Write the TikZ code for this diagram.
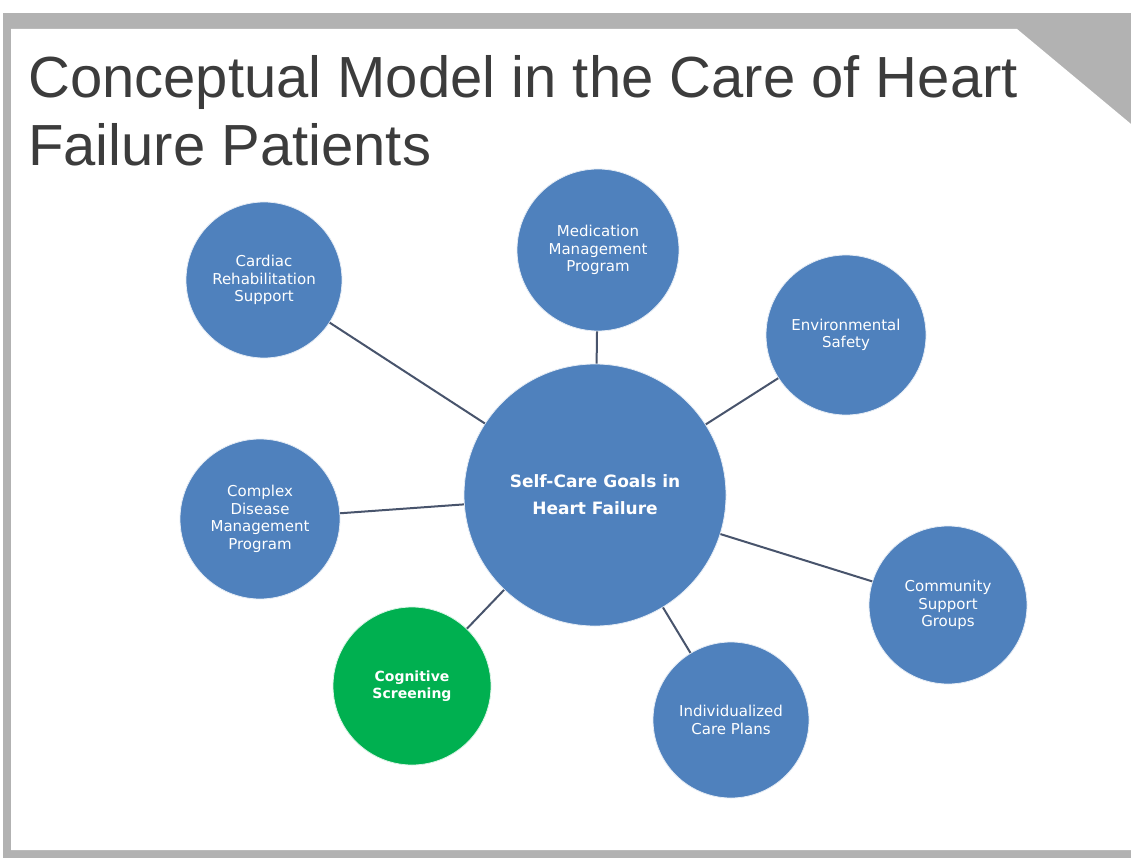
\documentclass[tikz,border=0pt]{standalone}
\usepackage{fontspec}
\setmainfont{Liberation Sans}
\newfontfamily\circfont{DejaVu Sans}
\definecolor{framegray}{RGB}{178,178,178}
\definecolor{titlegray}{RGB}{60,60,60}
\definecolor{bubbleblue}{RGB}{79,129,189}
\definecolor{bubblegreen}{RGB}{0,176,80}
\definecolor{linkcol}{RGB}{72,84,108}
\tikzset{
  bubble/.style={circle, fill=bubbleblue, draw=white!85!bubbleblue, line width=0.8pt,
    inner sep=0pt, minimum size=#1, text=white, align=center,
    font=\circfont\fontsize{15}{17.5}\selectfont},
  hubtext/.style={font=\circfont\bfseries\fontsize{17}{27}\selectfont},
  greenbubble/.style={fill=bubblegreen, draw=white!85!bubblegreen,
    font=\circfont\bfseries\fontsize{14}{17.5}\selectfont},
  link/.style={draw=linkcol, line width=2pt},
  titletext/.style={anchor=base west, inner sep=0pt, text=titlegray,
    font=\fontsize{58}{69}\selectfont}
}
\begin{document}
\begin{tikzpicture}[x=1pt,y=-1pt]
\useasboundingbox (0,0) rectangle (1131,858);
% slide frame with folded top-right corner
\fill[white] (0,0) rectangle (1131,858);
\fill[framegray] (3,13) rectangle (1131,858);
\fill[white] (11,29) -- (1017,29) -- (1131,124) -- (1131,850) -- (11,850) -- cycle;
% title
\node[titletext] (title1) at (28,98) {Conceptual Model in the Care of Heart};
\node[titletext] (title2) at (28,166) {Failure Patients};
% hub and satellites
\node[bubble=262pt, hubtext] (hub) at (595,495) {Self-Care Goals in\\Heart Failure};
\node[bubble=156pt] (cardiac) at (264,280) {Cardiac\\Rehabilitation\\Support};
\node[bubble=162pt] (medication) at (598,250) {Medication\\Management\\Program};
\node[bubble=160pt] (environment) at (846,335) {Environmental\\Safety};
\node[bubble=160pt] (complex) at (260,519) {Complex\\Disease\\Management\\Program};
\node[bubble=158pt] (community) at (948,605) {Community\\Support\\Groups};
\node[bubble=158pt, greenbubble] (cognitive) at (412,686) {Cognitive\\Screening};
\node[bubble=156pt] (careplans) at (731,720) {Individualized\\Care Plans};
% connectors
\foreach \n in {cardiac,medication,environment,complex,community,cognitive,careplans}
  \draw[link] (hub) -- (\n);
\end{tikzpicture}
\end{document}
